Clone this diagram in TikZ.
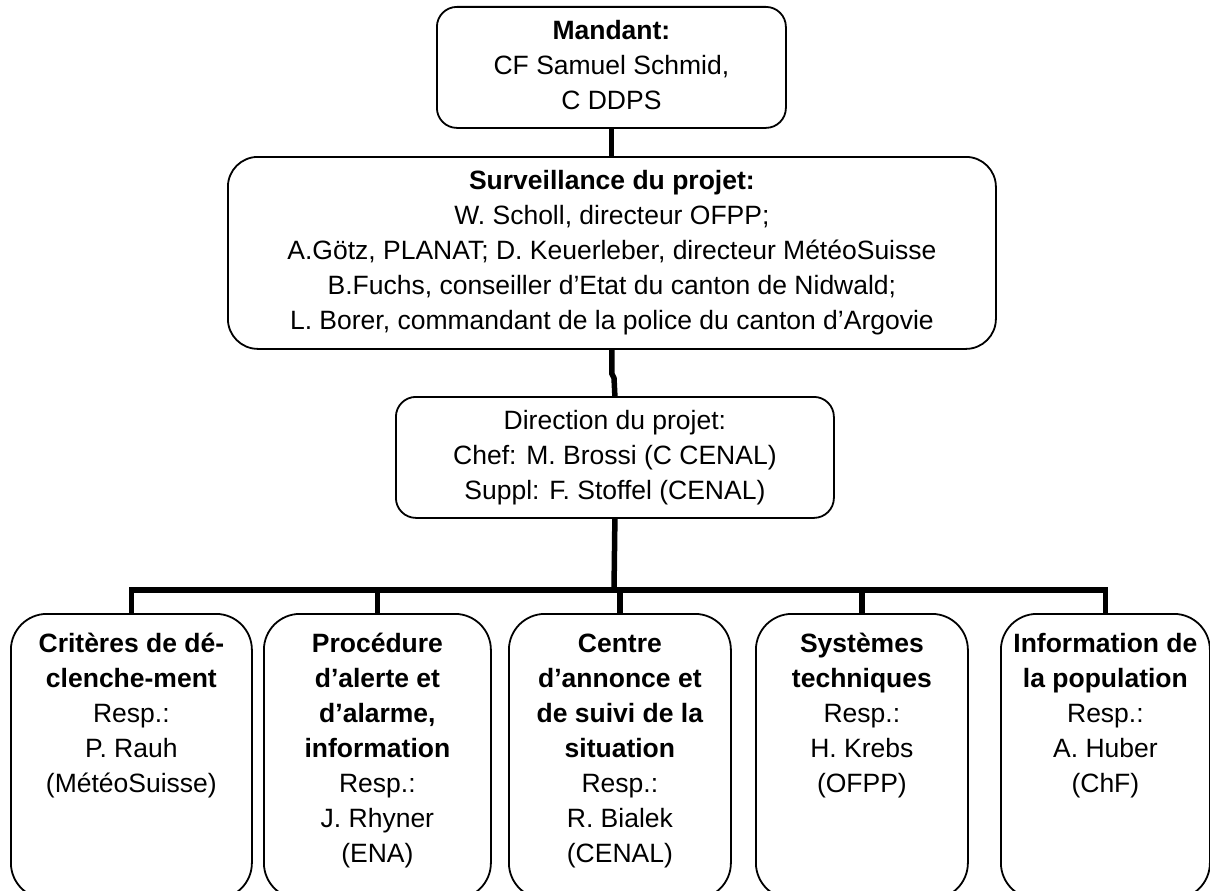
\documentclass[tikz,border=0pt]{standalone}
\usepackage{fontspec}
\setmainfont{Liberation Sans}
\begin{document}
\begin{tikzpicture}[x=1pt,y=-1pt,
  every node/.style={font=\fontsize{26.5pt}{35pt}\selectfont},
  box/.style={draw, line width=1.8pt, inner sep=0pt, align=center, anchor=north west, fill=white},
  btext/.style={anchor=north, inner sep=0pt, align=center},
  conn/.style={line width=5.5pt, line cap=butt, line join=miter}]
\useasboundingbox[fill=white] (0,0) rectangle (1210,891);
% upper boxes
\node[box, rounded corners=20pt, minimum width=349pt, minimum height=121pt] (mandant) at (436,6)
  {\strut\textbf{Mandant:}\\CF Samuel Schmid,\\C DDPS\strut};
\node[box, rounded corners=30pt, minimum width=768pt, minimum height=192pt] (surv) at (227,156)
  {\strut\textbf{Surveillance du projet:}\\W. Scholl, directeur OFPP;\\A.Götz, PLANAT; D. Keuerleber, directeur MétéoSuisse\\B.Fuchs, conseiller d’Etat du canton de Nidwald;\\L. Borer, commandant de la police du canton d’Argovie\strut};
\node[box, rounded corners=20pt, minimum width=438pt, minimum height=121pt] (dir) at (395,396)
  {\strut Direction du projet:\\Chef: M. Brossi (C CENAL)\\Suppl: F. Stoffel (CENAL)\strut};
% bottom boxes
\node[box, rounded corners=36pt, minimum width=241pt, minimum height=285pt] (b1) at (10,613) {};
\node[box, rounded corners=36pt, minimum width=227pt, minimum height=285pt] (b2) at (263,613) {};
\node[box, rounded corners=36pt, minimum width=222pt, minimum height=285pt] (b3) at (508,613) {};
\node[box, rounded corners=36pt, minimum width=212pt, minimum height=285pt] (b4) at (755,613) {};
\node[box, rounded corners=36pt, minimum width=209pt, minimum height=285pt] (b5) at (1000,613) {};
\node[btext] (t1) at ([yshift=-15pt]b1.north) {\strut\textbf{Critères de dé-}\\\textbf{clenche-ment}\\Resp.:\\P. Rauh\\(MétéoSuisse)};
\node[btext] (t2) at ([yshift=-15pt]b2.north) {\strut\textbf{Procédure}\\\textbf{d’alerte et}\\\textbf{d’alarme,}\\\textbf{information}\\Resp.:\\J. Rhyner\\(ENA)};
\node[btext] (t3) at ([yshift=-15pt]b3.north) {\strut\textbf{Centre}\\\textbf{d’annonce et}\\\textbf{de suivi de la}\\\textbf{situation}\\Resp.:\\R. Bialek\\(CENAL)};
\node[btext] (t4) at ([yshift=-15pt]b4.north) {\strut\textbf{Systèmes}\\\textbf{techniques}\\Resp.:\\H. Krebs\\(OFPP)};
\node[btext] (t5) at ([yshift=-15pt]b5.north) {\strut\textbf{Information de}\\\textbf{la population}\\Resp.:\\A. Huber\\(ChF)};
% connectors
\coordinate (jog) at (614,378);
\coordinate (j) at (614,590);
\draw[conn] (mandant.south) -- (mandant.south |- surv.north);
\draw[conn] (surv.south) -- ++(0,24) -- (jog) -- (dir.north);
\draw[conn] (dir.south) -- (j);
\draw[conn] (b1.north) -- (b1.north |- j) -- (b5.north |- j) -- (b5.north);
\draw[conn] (b2.north) -- (b2.north |- j);
\draw[conn] (b3.north) -- (b3.north |- j);
\draw[conn] (b4.north) -- (b4.north |- j);
\end{tikzpicture}
\end{document}
